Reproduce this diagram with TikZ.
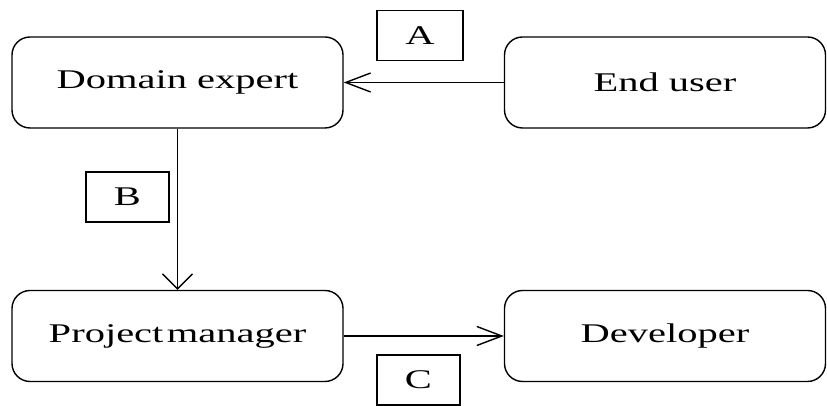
\documentclass[tikz,border=0pt]{standalone}
\usepackage{fontspec}
\setmainfont{Liberation Serif}
\usetikzlibrary{arrows.meta}
\newcommand{\wtxt}[1]{\scalebox{1.5}[1]{#1}}
\tikzset{
  actor/.style={draw, line width=1.4pt, rounded corners=18pt, minimum height=91pt, inner sep=0pt, font=\fontsize{27}{30}\selectfont},
  tag/.style={draw, line width=1.4pt, inner sep=0pt, minimum width=84pt, minimum height=50pt, font=\fontsize{27}{30}\selectfont},
  hflow/.style={line width=1.4pt, -{Straight Barb[length=25pt, width=19pt, line width=1.4pt]}},
  vflow/.style={line width=1.4pt, -{Straight Barb[length=15pt, width=30pt, line width=1.4pt]}}
}
\begin{document}
\begin{tikzpicture}[x=1pt,y=1pt]
\useasboundingbox (0,0) rectangle (827,406);
\node[actor, minimum width=331pt] (dom) at (177.5,323.5) {\wtxt{Domain expert}};
\node[actor, minimum width=321pt] (end) at (665,323.5) {\wtxt{End user}};
\node[actor, minimum width=331pt] (pm) at (177.5,70) {\wtxt{Project\hspace{-4.5pt} manager}};
\node[actor, minimum width=321pt] (dev) at (665,70) {\wtxt{Developer}};
\node[tag, minimum width=86pt] (a) at (420,370.5) {\wtxt{A}};
\node[tag, minimum width=83pt] (b) at (127.5,209) {\wtxt{B}};
\node[tag, minimum width=83pt] (c) at (418.5,26) {\wtxt{C}};
\draw[hflow] (end.west) -- (dom.east);
\draw[vflow] (dom.south) -- (pm.north);
\draw[hflow] (pm.east) -- (dev.west);
\end{tikzpicture}
\end{document}
